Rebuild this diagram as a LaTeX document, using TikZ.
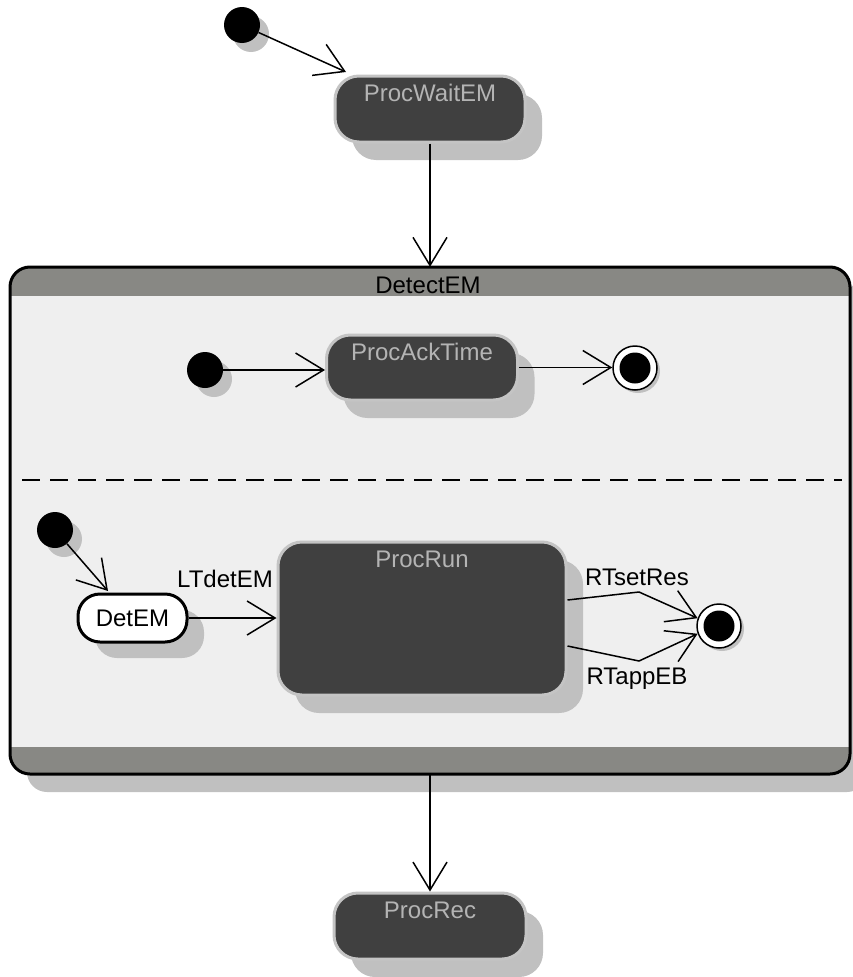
\documentclass[tikz,border=0pt]{standalone}
\usepackage{fontspec}
\setmainfont{Liberation Sans}
\usetikzlibrary{arrows.meta,shadows,calc}
\definecolor{shade}{HTML}{C0C0C0}
\definecolor{darkfill}{HTML}{404040}
\definecolor{rimgray}{HTML}{C4C4C4}
\definecolor{txtgray}{HTML}{B4B4B4}
\definecolor{bandgray}{HTML}{888884}
\definecolor{bodygray}{HTML}{EFEFEF}
\begin{document}
\begin{tikzpicture}[x=1pt,y=-1pt,
  every node/.style={font=\fontsize{24}{28}\selectfont},
  procbox/.style={draw=rimgray,line width=3pt,fill=darkfill,rounded corners=24pt,
    inner sep=0pt,
    drop shadow={shadow xshift=17pt,shadow yshift=-18pt,fill=shade,opacity=1}},
  proctext/.style={text=txtgray,anchor=north,inner sep=0pt},
  initdot/.style={circle,fill=black,minimum size=36pt,inner sep=0pt,
    drop shadow={shadow xshift=9pt,shadow yshift=-9pt,fill=shade,opacity=1}},
  finring/.style={circle,draw=black,line width=1.5pt,fill=white,minimum size=44pt,inner sep=0pt,
    drop shadow={shadow xshift=3pt,shadow yshift=-3pt,fill=shade,opacity=1}},
  findot/.style={circle,fill=black,minimum size=31pt,inner sep=0pt},
  trans/.style={line width=1.5pt,-{Straight Barb[length=28pt,width=34pt,line width=1.5pt]}},
  lbl/.style={text=black,inner sep=0pt}
]
\useasboundingbox (0,0) rectangle (852,977);

% composite state
\node[fill=bodygray,minimum width=840pt,minimum height=507pt,inner sep=0pt,rounded corners=20pt,
  drop shadow={shadow xshift=17pt,shadow yshift=-18pt,fill=shade,opacity=1}] (detect) at (430,520.5) {};
\begin{scope}
  \clip[rounded corners=20pt] (10,267) rectangle (850,774);
  \fill[bandgray] (10,267) rectangle (850,296);
  \fill[bandgray] (10,747) rectangle (850,774);
\end{scope}
\draw[line width=3pt,rounded corners=20pt] (10,267) rectangle (850,774);
\node[lbl] (detecttitle) at (428,285) {DetectEM};
\draw[line width=1.5pt,dash pattern=on 18pt off 10pt] (22,480) -- (842,480);

% top
\node[initdot] (ini1) at (242,25) {};
\node[procbox,minimum width=190pt,minimum height=66pt] (wait) at (430,109) {};
\node[proctext] (waittext) at (430,84) {ProcWaitEM};
\coordinate (waittip) at (346,72);
\draw[trans] (ini1) -- (waittip);
\draw[trans] (wait.south) -- (detect.north -| wait.south);

% region 1
\node[initdot] (ini2) at (205,370) {};
\node[procbox,minimum width=191pt,minimum height=65pt] (ack) at (422,367.5) {};
\node[proctext] (acktext) at (422,343) {ProcAckTime};
\node[finring] (fin1) at (635,368) {};
\node[findot] (fin1in) at (635,368) {};
\draw[trans] (ini2) -- (ini2 -| ack.west);
\draw[trans] (ack.east) -- (ack.east -| fin1.west);

% region 2
\node[initdot] (ini3) at (55,530) {};
\node[draw=black,line width=3pt,fill=white,rounded corners=22pt,minimum width=109pt,minimum height=48pt,
  inner sep=0pt,
  drop shadow={shadow xshift=17pt,shadow yshift=-16pt,fill=shade,opacity=1}] (detem) at (132.5,618) {DetEM};
\coordinate (detemtip) at (108,591);
\draw[trans] (ini3) -- (detemtip);
\node[procbox,minimum width=288pt,minimum height=153pt] (run) at (422,618.5) {};
\node[proctext] (runtext) at (422,551) {ProcRun};
\draw[trans] (detem.east) -- (detem.east -| run.west);
\node[lbl] (ltdet) at (225,579) {LTdetEM};

\node[finring] (fin2) at (719,626) {};
\node[findot] (fin2in) at (719,626) {};
\coordinate (b1) at (639,592);
\coordinate (b2) at (639,661);
\draw[trans] (run.east |- 0,600) -- (b1) -- (fin2.160);
\draw[trans] (run.east |- 0,646) -- (b2) -- (fin2.200);
\node[lbl] (rtset) at (637,577) {RTsetRes};
\node[lbl] (rtapp) at (637,679) {RTappEB};

% bottom
\node[procbox,minimum width=192pt,minimum height=66pt] (rec) at (430,926) {};
\node[proctext] (rectext) at (430,902) {ProcRec};
\draw[trans] (detect.south -| rec.north) -- (rec.north);
\end{tikzpicture}
\end{document}
